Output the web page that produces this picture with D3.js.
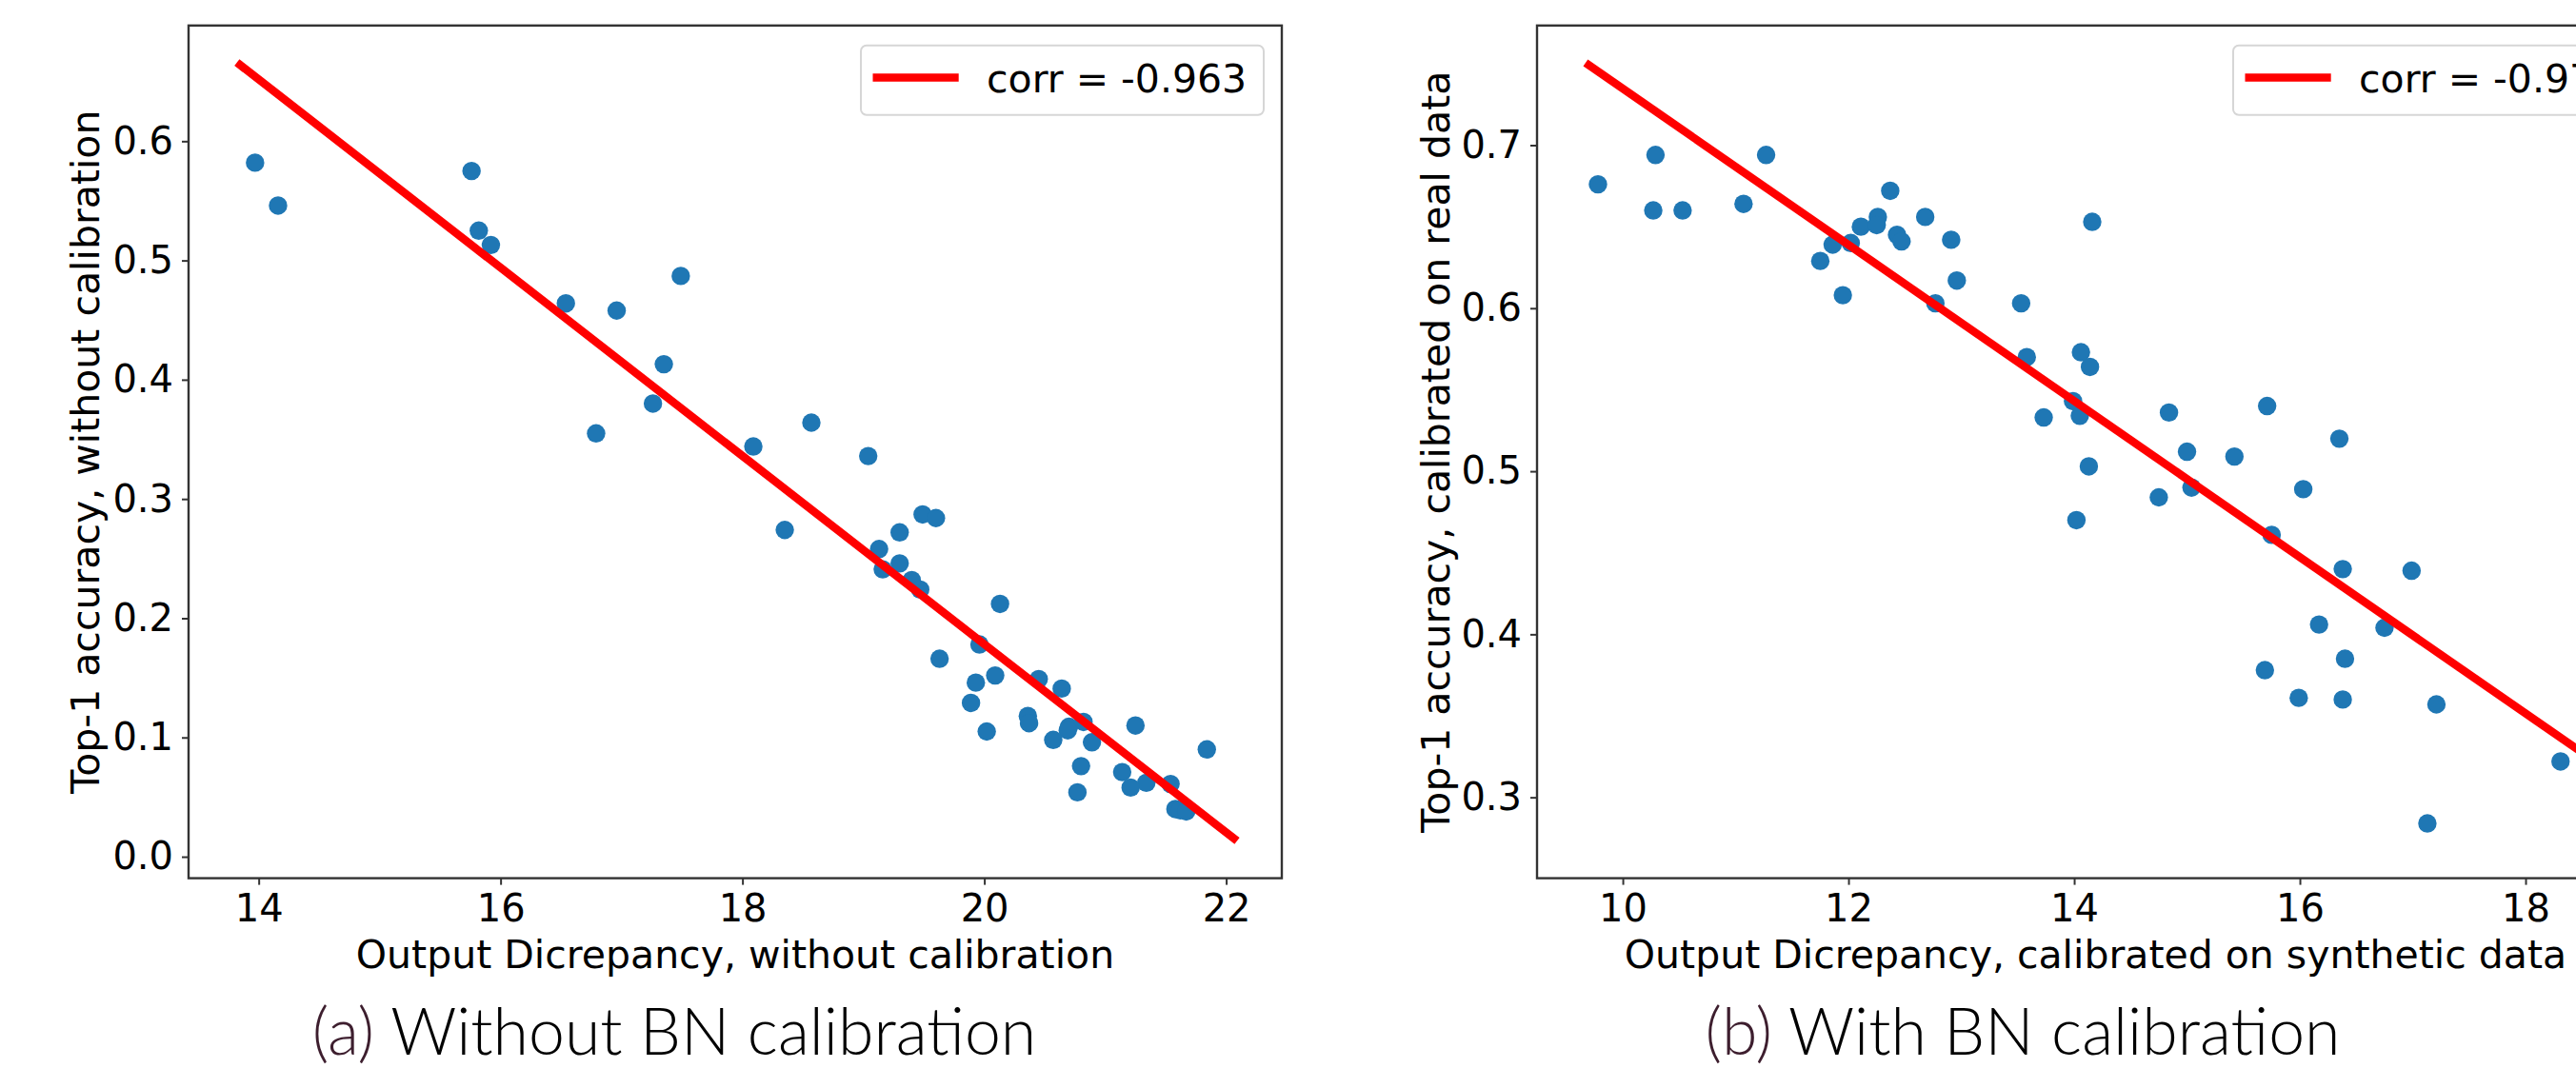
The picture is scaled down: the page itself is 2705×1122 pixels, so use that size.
<!DOCTYPE html>
<html>
<head>
<meta charset="utf-8">
<script src="https://cdn.jsdelivr.net/npm/d3@7/dist/d3.min.js"></script>
<style>
  body { margin: 0; background: #fff; }
  svg { display: block; }
  text { font-family: "DejaVu Sans", sans-serif; fill: #000; }
</style>
</head>
<body>
<svg id="chart" width="2705" height="1122"></svg>
<script>
// (a) without BN calibration
var discA = [13.97, 14.16, 15.76, 15.82, 15.92, 16.54, 16.96, 17.49, 17.35, 17.26,
             16.79, 18.57, 18.09, 19.04, 18.35, 19.49, 19.60, 19.30, 19.13, 19.30,
             19.16, 19.40, 19.47, 20.13, 19.96, 19.63, 20.09, 19.93, 20.45, 20.64,
             19.89, 20.36, 20.37, 20.02, 20.82, 20.70, 20.69, 20.57, 20.89, 21.25,
             20.80, 21.14, 21.34, 21.21, 21.54, 20.77, 21.58, 21.62, 21.67, 21.84];
var accA  = [0.582, 0.546, 0.575, 0.525, 0.513, 0.464, 0.458, 0.487, 0.413, 0.380,
             0.355, 0.364, 0.344, 0.336, 0.274, 0.287, 0.284, 0.272, 0.258, 0.246,
             0.241, 0.232, 0.224, 0.212, 0.178, 0.166, 0.152, 0.146, 0.149, 0.141,
             0.129, 0.118, 0.112, 0.105, 0.113, 0.109, 0.106, 0.098, 0.096, 0.110,
             0.076, 0.071, 0.062, 0.058, 0.061, 0.054, 0.040, 0.039, 0.038, 0.090];
var fitXA = [13.82, 22.09];
var fitYA = [0.666, 0.0133];
var xTicksA = [14, 16, 18, 20, 22];
var yTicksA = [0.0, 0.1, 0.2, 0.3, 0.4, 0.5, 0.6];

// (b) with BN calibration
var discB = [9.78, 10.29, 10.27, 10.53, 11.27, 11.07, 12.37, 12.26, 12.11, 12.25,
             12.68, 12.43, 12.47, 11.86, 12.02, 11.75, 12.91, 11.95, 12.96, 12.77,
             13.53, 13.58, 14.16, 14.06, 14.14, 13.73, 13.99, 14.05, 14.84, 15.71,
             16.35, 14.13, 15.00, 15.42, 14.75, 15.04, 16.03, 14.02, 15.75, 16.38,
             16.99, 16.17, 16.75, 16.40, 15.69, 15.99, 16.38, 17.21, 18.31, 17.13];
var accB  = [0.676, 0.694, 0.660, 0.660, 0.694, 0.664, 0.672, 0.656, 0.650, 0.651,
             0.656, 0.645, 0.641, 0.639, 0.640, 0.629, 0.642, 0.608, 0.617, 0.603,
             0.603, 0.570, 0.653, 0.573, 0.564, 0.533, 0.543, 0.534, 0.536, 0.540,
             0.520, 0.503, 0.512, 0.509, 0.484, 0.490, 0.489, 0.470, 0.461, 0.440,
             0.439, 0.406, 0.404, 0.385, 0.378, 0.361, 0.360, 0.357, 0.322, 0.284];
var fitXB = [9.67, 19.2];
var fitYB = [0.7505, 0.294];
var xTicksB = [10, 12, 14, 16, 18];
var yTicksB = [0.3, 0.4, 0.5, 0.6, 0.7];

var svg = d3.select("#chart");

var plotTop = 26.8, plotBottom = 922.6;

function drawPanel(p) {
  var x = d3.scaleLinear().domain(p.xDomain).range([p.left, p.right]);
  var y = d3.scaleLinear().domain(p.yDomain).range([plotBottom, plotTop]);

  var g = svg.append("g");

  var pts = p.xs.map(function(d, i) { return [d, p.ys[i]]; });

  g.selectAll("circle.pt")
      .data(pts)
    .enter().append("circle")
      .attr("class", "pt")
      .attr("cx", function(d) { return x(d[0]); })
      .attr("cy", function(d) { return y(d[1]); })
      .attr("r", 9.7)
      .style("fill", "#1f77b4");

  // regression line
  var fit = p.fitX.map(function(d, i) { return [d, p.fitY[i]]; });
  g.append("path")
      .datum(fit)
      .attr("d", d3.line().x(function(d) { return x(d[0]); }).y(function(d) { return y(d[1]); }))
      .style("stroke", "#ff0000")
      .style("stroke-width", 8.5)
      .style("fill", "none");

  // axes
  var xAxis = d3.axisBottom(x).tickValues(p.xTicks).tickSize(7).tickPadding(9)
      .tickFormat(d3.format("d"));
  var yAxis = d3.axisLeft(y).tickValues(p.yTicks).tickSize(7).tickPadding(9)
      .tickFormat(d3.format(".1f"));

  var gx = g.append("g").attr("transform", "translate(0," + plotBottom + ")").call(xAxis);
  var gy = g.append("g").attr("transform", "translate(" + p.left + ",0)").call(yAxis);

  [gx, gy].forEach(function(a) {
    a.select(".domain").remove();
    a.selectAll(".tick line").style("stroke", "#333").style("stroke-width", 2);
    a.selectAll(".tick text")
        .style("font-family", "'DejaVu Sans', sans-serif")
        .style("font-size", "40px")
        .style("fill", "#000");
  });
  gx.selectAll(".tick text").attr("dy", null).attr("y", 45.7);

  // spines
  g.append("rect")
      .attr("x", p.left)
      .attr("y", plotTop)
      .attr("width", p.right - p.left)
      .attr("height", plotBottom - plotTop)
      .style("fill", "none")
      .style("stroke", "#333")
      .style("stroke-width", 2.4);

  g.append("text")
      .attr("x", (p.left + p.right) / 2)
      .attr("y", 1016.5)
      .attr("text-anchor", "middle")
      .style("font-size", "41px")
      .text(p.xLabel);

  g.append("text")
      .attr("transform", "translate(" + p.yLabelX + "," + (plotTop + plotBottom) / 2 + ") rotate(-90)")
      .attr("text-anchor", "middle")
      .style("font-size", "41px")
      .text(p.yLabel);

  // legend
  var lx = p.right - 19 - 423, ly = plotTop + 21;
  var leg = g.append("g").attr("transform", "translate(" + lx + "," + ly + ")");
  leg.append("rect")
      .attr("width", 423)
      .attr("height", 73)
      .attr("rx", 6)
      .style("fill", "#fff")
      .style("fill-opacity", 0.8)
      .style("stroke", "#d6d6d6")
      .style("stroke-width", 2);
  leg.append("line")
      .attr("x1", 12.5).attr("x2", 102.7)
      .attr("y1", 33.6).attr("y2", 33.6)
      .style("stroke", "#ff0000")
      .style("stroke-width", 8.5);
  leg.append("text")
      .attr("x", 132)
      .attr("y", 49.5)
      .style("font-size", "41px")
      .text(p.legend);

  // caption
  var cap = svg.append("text")
      .attr("x", p.capX)
      .attr("y", 1108)
      .attr("text-anchor", "middle")
      .style("font-family", "Lato, 'Open Sans', sans-serif")
      .style("font-weight", 300)
      .style("font-size", "68px");
  cap.append("tspan").style("fill", "#3d1e2e").text(p.capTag);
  cap.append("tspan").style("fill", "#000").text(" " + p.caption);
}

drawPanel({
  left: 198, right: 1346,
  xDomain: [13.42, 22.46], yDomain: [-0.018, 0.697],
  xs: discA, ys: accA, fitX: fitXA, fitY: fitYA,
  xTicks: xTicksA, yTicks: yTicksA,
  xLabel: "Output Dicrepancy, without calibration",
  yLabel: "Top-1 accuracy, without calibration",
  yLabelX: 104,
  legend: "corr = -0.963",
  capX: 708, capTag: "(a)", caption: "Without BN calibration"
});

drawPanel({
  left: 1614, right: 2787,
  xDomain: [9.24, 19.139], yDomain: [0.2504, 0.7734],
  xs: discB, ys: accB, fitX: fitXB, fitY: fitYB,
  xTicks: xTicksB, yTicks: yTicksB,
  xLabel: "Output Dicrepancy, calibrated on synthetic data",
  yLabel: "Top-1 accuracy, calibrated on real data",
  yLabelX: 1522,
  legend: "corr = -0.975",
  capX: 2124, capTag: "(b)", caption: "With BN calibration"
});
</script>
</body>
</html>
